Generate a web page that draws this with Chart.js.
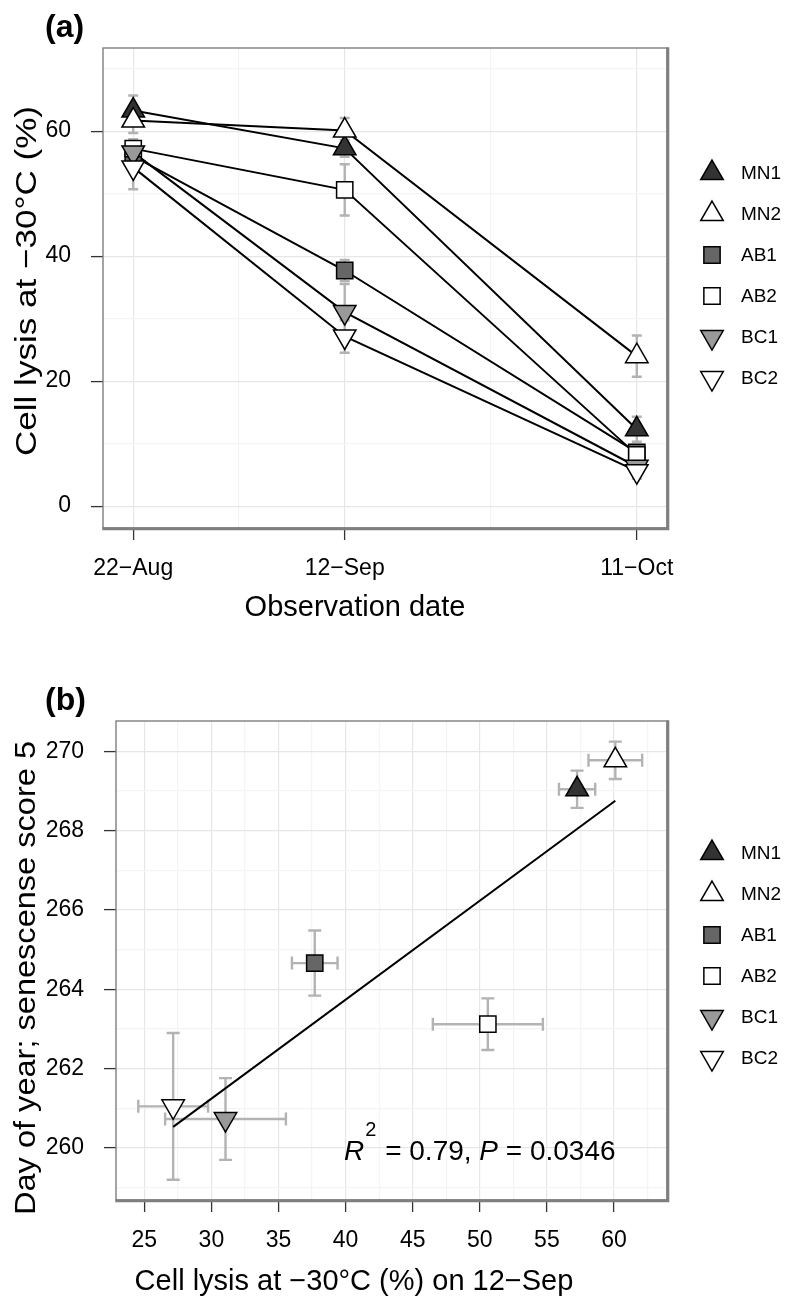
<!DOCTYPE html>
<html><head><meta charset="utf-8">
<script src="https://cdn.jsdelivr.net/npm/chart.js@4.4.0/dist/chart.umd.min.js"></script>
<style>
html,body{margin:0;padding:0;background:#fff;}
#wrap{position:relative;width:794px;height:1298px;overflow:hidden;}
#c1{position:absolute;left:0;top:0;}
#c2{position:absolute;left:0;top:640px;}
</style></head><body>
<div id="wrap"><canvas id="c1" width="794" height="640"></canvas><canvas id="c2" width="794" height="658"></canvas></div>
<script>
const FONT = '"Liberation Sans", Arial, Helvetica, sans-serif';

// ---------- data ----------
const genotypes = ['MN1', 'MN2', 'AB1', 'AB2', 'BC1', 'BC2'];
const dateLabels = ['22−Aug', '12−Sep', '11−Oct'];
const dateDays = [234, 255, 284];   // day of year

// Panel (a): cell lysis at -30 °C (%) per observation date
const lysisMN1 = [63.3, 57.25, 12.3];
const lysisMN2 = [61.7, 60.1, 24.0];
const lysisAB1 = [56.0, 37.7, 8.6];
const lysisAB2 = [57.2, 50.6, 8.2];
const lysisBC1 = [56.6, 31.05, 6.3];
const lysisBC2 = [54.2, 27.15, 5.6];
const errMN1 = [2.4, 1.35, 2.0];
const errMN2 = [2.0, 2.0, 3.3];
const errAB1 = [1.5, 1.7, 1.2];
const errAB2 = [1.5, 4.1, 1.5];
const errBC1 = [2.0, 4.5, 1.0];
const errBC2 = [3.5, 2.6, 1.2];

// Panel (b): day of year at senescence score 5
const senescenceDoy = [269.04, 269.77, 264.66, 263.12, 260.73, 261.05];
const senescenceErr = [0.47, 0.47, 0.82, 0.65, 1.03, 1.85];

// ticks
const yTicksA = [0, 20, 40, 60];
const yMinorA = [10, 30, 50, 70];
const xMinorA = [244.5, 269.5];
const xTicksB = [25, 30, 35, 40, 45, 50, 55, 60];
const xMinorB = [27.5, 32.5, 37.5, 42.5, 47.5, 52.5, 57.5, 62.5];
const yTicksB = [260, 262, 264, 266, 268, 270];
const yMinorB = [259, 261, 263, 265, 267, 269];

const statsLabel = {r2: '0.79', p: '0.0346'};

// ---------- styling ----------
const lysisByG = [lysisMN1, lysisMN2, lysisAB1, lysisAB2, lysisBC1, lysisBC2];
const errByG = [errMN1, errMN2, errAB1, errAB2, errBC1, errBC2];
const fills = ['#333333', '#ffffff', '#666666', '#ffffff', '#999999', '#ffffff'];
const shapes = ['triangle', 'triangle', 'rect', 'rect', 'triangle', 'triangle'];
const rots = [0, 0, 0, 0, 180, 180];
const radii = [13, 13, 11.5, 11.5, 13, 13];
const ERR_COL = '#b3b3b3';

function tickSetter(majors, minors) {
  return function (scale) {
    scale.ticks = majors.map(v => ({value: v})).concat(minors.map(v => ({value: v, minorTick: true})));
  };
}
const gridColor = c => (c.tick && c.tick.minorTick) ? '#f4f4f4' : '#e6e6e6';
const tickColor = c => (c.tick && c.tick.minorTick) ? 'rgba(0,0,0,0)' : '#333333';

function errPlugin(items, cap) {
  return {
    id: 'errbars',
    beforeDatasetsDraw(chart) {
      const {ctx, scales: {x, y}} = chart;
      ctx.save();
      ctx.strokeStyle = ERR_COL;
      ctx.lineWidth = 2.4;
      ctx.beginPath();
      items.forEach(it => {
        const px = x.getPixelForValue(it.x), py = y.getPixelForValue(it.y);
        if (it.yerr != null) {
          const y1 = y.getPixelForValue(it.y - it.yerr), y2 = y.getPixelForValue(it.y + it.yerr);
          ctx.moveTo(px, y1); ctx.lineTo(px, y2);
          ctx.moveTo(px - cap, y1); ctx.lineTo(px + cap, y1);
          ctx.moveTo(px - cap, y2); ctx.lineTo(px + cap, y2);
        }
        if (it.xerr != null) {
          const x1 = x.getPixelForValue(it.x - it.xerr), x2 = x.getPixelForValue(it.x + it.xerr);
          ctx.moveTo(x1, py); ctx.lineTo(x2, py);
          ctx.moveTo(x1, py - cap); ctx.lineTo(x1, py + cap);
          ctx.moveTo(x2, py - cap); ctx.lineTo(x2, py + cap);
        }
      });
      ctx.stroke();
      ctx.restore();
    }
  };
}

function drawMarker(ctx, i, x, y) {
  ctx.save();
  ctx.fillStyle = fills[i];
  ctx.strokeStyle = '#000';
  ctx.lineWidth = 1.5;
  if (Chart.helpers && Chart.helpers.drawPoint) {
    Chart.helpers.drawPoint(ctx, {pointStyle: shapes[i], rotation: rots[i], radius: radii[i], borderWidth: 1.5}, x, y);
  }
  ctx.restore();
}

function decorPlugin(cfg) {
  return {
    id: 'decor',
    afterDatasetsDraw(chart) {
      const {ctx, chartArea: a} = chart;
      ctx.save();
      ctx.strokeStyle = '#7f7f7f';
      ctx.lineWidth = 1.4;
      ctx.strokeRect(a.left, a.top, a.right - a.left, a.bottom - a.top);
      ctx.lineWidth = 3;
      ctx.beginPath();
      ctx.moveTo(a.right + 0.8, a.top - 0.7); ctx.lineTo(a.right + 0.8, a.bottom + 2.3);
      ctx.moveTo(a.left - 0.7, a.bottom + 0.8); ctx.lineTo(a.right + 2.3, a.bottom + 0.8);
      ctx.stroke();
      ctx.restore();
      if (cfg.annot) cfg.annot(chart);
    },
    afterDraw(chart) {
      const ctx = chart.ctx;
      ctx.save();
      ctx.fillStyle = '#000';
      // panel tag
      ctx.font = `bold 32px ${FONT}`;
      ctx.textAlign = 'left'; ctx.textBaseline = 'alphabetic';
      ctx.fillText(cfg.tag, cfg.tagX, cfg.tagY);
      // x title
      ctx.font = `29px ${FONT}`;
      ctx.textAlign = 'center';
      ctx.fillText(cfg.xTitle, cfg.xTitleX, cfg.xTitleY);
      // y title (stretched along reading direction to the reference length)
      ctx.save();
      ctx.font = `30px ${FONT}`;
      const wTitle = ctx.measureText(cfg.yTitle).width;
      ctx.translate(cfg.yTitleX, cfg.yTitleY);
      ctx.rotate(-Math.PI / 2);
      ctx.scale(cfg.yTitleLen / wTitle, 1);
      ctx.fillText(cfg.yTitle, 0, 0);
      ctx.restore();
      // legend
      ctx.font = `19px ${FONT}`;
      ctx.textAlign = 'left'; ctx.textBaseline = 'middle';
      genotypes.forEach((g, i) => {
        const yy = cfg.legY + i * 41;
        drawMarker(ctx, i, 712, yy);
        ctx.fillStyle = '#000';
        ctx.fillText(g, 741, yy + 1);
      });
      ctx.restore();
    }
  };
}

const baseScale = (min, max, majors, minors, extra) => Object.assign({
  type: 'linear', min, max,
  afterBuildTicks: tickSetter(majors, minors),
  grid: {color: gridColor, tickColor: tickColor, lineWidth: 1.2, tickLength: 12, tickWidth: 1.3, drawTicks: true},
  border: {display: false}
}, extra || {});

// ---------- chart (a) ----------
const dsA = [];
genotypes.forEach((g, i) => {
  dsA.push({
    label: g + ' line',
    data: dateDays.map((d, k) => ({x: d, y: lysisByG[i][k]})),
    showLine: true, borderColor: '#000', borderWidth: 2, pointRadius: 0, order: 100, clip: false
  });
});
genotypes.forEach((g, i) => {
  dsA.push({
    label: g,
    data: dateDays.map((d, k) => ({x: d, y: lysisByG[i][k]})),
    showLine: false, pointStyle: shapes[i], rotation: rots[i], pointRadius: radii[i],
    backgroundColor: fills[i], borderColor: '#000', borderWidth: 1.5, order: 20 - i, clip: false
  });
});
const errItemsA = [];
genotypes.forEach((g, i) => dateDays.forEach((d, k) => errItemsA.push({x: d, y: lysisByG[i][k], yerr: errByG[i][k]})));

new Chart(document.getElementById('c1'), {
  type: 'scatter',
  data: {datasets: dsA},
  options: {
    responsive: false, animation: false, events: [],
    layout: {padding: {left: 0, top: 48, right: 127, bottom: 0}},
    plugins: {legend: {display: false}, tooltip: {enabled: false}},
    scales: {
      x: baseScale(231, 287, dateDays, xMinorA,
        {afterFit: s => { s.height = 112; }, ticks: {autoSkip: false, maxRotation: 0, color: '#000', padding: 15, font: {family: FONT, size: 23}, callback: v => { const k = dateDays.indexOf(v); return k >= 0 ? dateLabels[k] : ''; }}}),
      y: baseScale(-3.5, 73.3, yTicksA, yMinorA,
        {afterFit: s => { s.width = 103; }, ticks: {autoSkip: false, color: '#000', padding: 20, font: {family: FONT, size: 23}, callback: v => yTicksA.includes(v) ? String(v) : ''}})
    }
  },
  plugins: [errPlugin(errItemsA, 5), decorPlugin({
    tag: '(a)', tagX: 45, tagY: 37,
    xTitle: 'Observation date', xTitleX: 355, xTitleY: 616,
    yTitle: 'Cell lysis at −30°C (%)', yTitleX: 36, yTitleY: 281, yTitleLen: 350,
    legY: 173
  })]
});

// ---------- chart (b) ----------
const lysisSep = lysisByG.map(a => a[1]);
const lysisSepErr = errByG.map(a => a[1]);
// least-squares fit line of senescence on lysis (12-Sep)
const n = lysisSep.length;
const mx = lysisSep.reduce((s, v) => s + v, 0) / n;
const my = senescenceDoy.reduce((s, v) => s + v, 0) / n;
let sxy = 0, sxx = 0;
for (let i = 0; i < n; i++) { sxy += (lysisSep[i] - mx) * (senescenceDoy[i] - my); sxx += (lysisSep[i] - mx) ** 2; }
const slope = sxy / sxx, icpt = my - slope * mx;
const xLo = Math.min(...lysisSep), xHi = Math.max(...lysisSep);

const dsB = [{
  label: 'fit', data: [{x: xLo, y: icpt + slope * xLo}, {x: xHi, y: icpt + slope * xHi}],
  showLine: true, borderColor: '#000', borderWidth: 2, pointRadius: 0, order: 1, clip: false
}];
genotypes.forEach((g, i) => {
  dsB.push({
    label: g, data: [{x: lysisSep[i], y: senescenceDoy[i]}],
    showLine: false, pointStyle: shapes[i], rotation: rots[i], pointRadius: radii[i],
    backgroundColor: fills[i], borderColor: '#000', borderWidth: 1.5, order: 20 - i, clip: false
  });
});
const errItemsB = genotypes.map((g, i) => ({x: lysisSep[i], y: senescenceDoy[i], xerr: lysisSepErr[i], yerr: senescenceErr[i]}));

function annotB(chart) {
  const {ctx, scales: {x, y}} = chart;
  const cx = x.getPixelForValue(50), cy = y.getPixelForValue(260);
  const fs = 28;
  const parts = [
    {t: 'R', f: `italic ${fs}px ${FONT}`, dy: 0, dx: 0},
    {t: '2', f: `20px ${FONT}`, dy: -24, dx: 1},
    {t: ' = ' + statsLabel.r2 + ', ', f: `${fs}px ${FONT}`, dy: 0, dx: 1},
    {t: 'P', f: `italic ${fs}px ${FONT}`, dy: 0, dx: 0},
    {t: ' = ' + statsLabel.p, f: `${fs}px ${FONT}`, dy: 0, dx: 0}
  ];
  ctx.save();
  ctx.fillStyle = '#000';
  ctx.textAlign = 'left'; ctx.textBaseline = 'alphabetic';
  let w = 0;
  parts.forEach(p => { ctx.font = p.f; p.w = ctx.measureText(p.t).width + p.dx; w += p.w; });
  let xx = cx - w / 2;
  const base = cy + 12;
  parts.forEach(p => { ctx.font = p.f; ctx.fillText(p.t, xx + p.dx, base + p.dy); xx += p.w; });
  ctx.restore();
}

new Chart(document.getElementById('c2'), {
  type: 'scatter',
  data: {datasets: dsB},
  options: {
    responsive: false, animation: false, events: [],
    layout: {padding: {left: 0, top: 81, right: 127, bottom: 0}},
    plugins: {legend: {display: false}, tooltip: {enabled: false}},
    scales: {
      x: baseScale(22.89, 63.95, xTicksB, xMinorB,
        {afterFit: s => { s.height = 98; }, ticks: {autoSkip: false, maxRotation: 0, color: '#000', padding: 15, font: {family: FONT, size: 23}, callback: v => xTicksB.includes(v) ? String(v) : ''}}),
      y: baseScale(258.69, 270.76, yTicksB, yMinorB,
        {afterFit: s => { s.width = 116; }, ticks: {autoSkip: false, color: '#000', padding: 20, font: {family: FONT, size: 23}, callback: v => yTicksB.includes(v) ? String(v) : ''}})
    }
  },
  plugins: [errPlugin(errItemsB, 6.5), decorPlugin({
    tag: '(b)', tagX: 45, tagY: 70,
    xTitle: 'Cell lysis at −30°C (%) on 12−Sep', xTitleX: 354, xTitleY: 650,
    yTitle: 'Day of year; senescense score 5', yTitleX: 35, yTitleY: 338, yTitleLen: 474,
    legY: 213, annot: annotB
  })]
});
</script>
</body></html>
